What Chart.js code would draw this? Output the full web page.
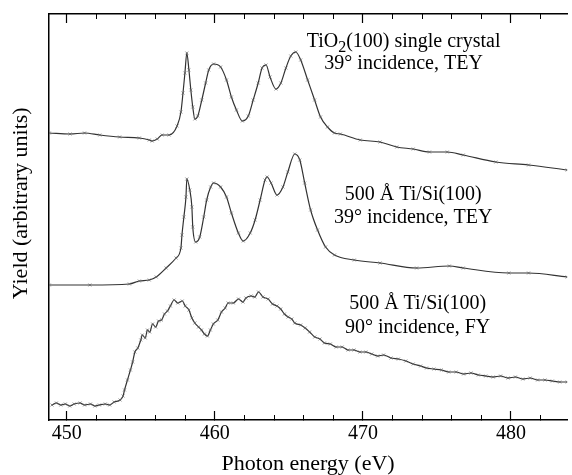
<!DOCTYPE html>
<html>
<head>
<meta charset="utf-8">
<title>Ti L-edge yield spectra</title>
<script src="https://cdn.jsdelivr.net/npm/chart.js@4"></script>
<style>
  body { margin: 0; background: #fff; }
  canvas { display: block; }
</style>
</head>
<body>
<canvas id="chart" width="572" height="475"></canvas>
<script>
// TiO2(100) single crystal, 39 deg, TEY
const tio2Energy = [448.82, 450.22, 451.2, 452.23, 453.57, 454.90, 455.57, 455.77, 456.11, 456.44, 456.91,
    457.45, 457.71, 457.85, 457.98, 458.11, 458.25, 458.38, 458.51, 458.65, 458.85, 459.12, 459.38,
    459.59, 459.92, 460.39, 460.79, 461.12, 461.46, 461.86, 462.26, 462.59, 462.93, 463.19, 463.46,
    463.73, 464.13, 464.46, 464.80, 465.13, 465.47, 465.80, 466.27, 466.74, 467.14, 467.61, 468.08,
    468.48, 469.82, 471.16, 472.29, 473.4, 474.50, 475.7, 476.78, 478.98, 481.19, 483.80];
const tio2Yield = [28.7, 28.6, 28.7, 28.5, 28.3, 28.2, 28.0, 27.9, 28.1, 28.5, 28.5,
    29.4, 30.8, 32.7, 34.7, 36.7, 35.0, 33.0, 31.3, 30.1, 30.4, 32.0, 33.7,
    35.0, 35.6, 35.3, 34.0, 32.3, 31.0, 29.9, 30.4, 32.0, 33.7, 35.2, 35.5,
    34.3, 33.1, 33.7, 35.2, 36.4, 36.8, 36.0, 34.0, 32.0, 30.3, 29.3, 28.7,
    28.6, 28.0, 27.8, 27.3, 27.1, 26.8, 26.8, 26.5, 25.8, 25.5, 25.0];

// 500 A Ti/Si(100), 39 deg, TEY
const tiTeyEnergy = [448.82, 451.56, 454.23, 454.90, 455.57, 456.04, 456.71, 457.38, 457.71, 457.78,
    457.91, 458.05, 458.11, 458.31, 458.45, 458.51, 458.71, 458.98, 459.25, 459.45, 459.72, 459.92,
    460.39, 460.79, 461.12, 461.59, 461.92, 462.39, 462.72, 463.06, 463.39, 463.53, 463.80, 464.20,
    464.60, 464.93, 465.40, 465.74, 466.07, 466.47, 466.94, 467.48, 468.08, 469.42, 471.16, 473.63,
    475.84, 476.78, 479.86, 481.19, 483.80];
const tiTeyYield = [13.5, 13.5, 13.6, 13.9, 14.0, 14.3, 15.2, 16.2, 17.2, 18.5,
    20.3, 22.3, 24.1, 23.0, 21.3, 19.3, 17.8, 18.3, 20.3, 22.0, 23.3, 23.7,
    23.3, 22.3, 20.7, 18.7, 17.9, 18.7, 20.0, 22.0, 24.0, 24.3, 23.7, 22.5,
    23.3, 24.8, 26.6, 26.0, 23.7, 21.0, 19.0, 17.3, 16.5, 16.0, 15.7, 15.2,
    15.4, 15.2, 14.7, 14.7, 14.3];

// 500 A Ti/Si(100), 90 deg, FY
const tiFyEnergy = [449.0, 449.3, 449.6, 449.9, 450.2, 450.5, 450.9, 451.2, 451.6, 451.9, 452.2,
    452.6, 452.9, 453.2, 453.6, 453.8, 453.9, 454.1, 454.3, 454.45, 454.6, 454.8, 455.0, 455.1,
    455.3, 455.45, 455.6, 455.8, 456.0, 456.2, 456.4, 456.6, 456.8, 457.0, 457.25, 457.5, 457.8,
    458.0, 458.25, 458.45, 458.65, 458.9, 459.1, 459.3, 459.5, 459.7, 459.9, 460.2, 460.45, 460.7,
    460.9, 461.25, 461.6, 461.9, 462.1, 462.45, 462.7, 462.95, 463.25, 463.6, 463.9, 464.2, 464.45,
    464.7, 464.95, 465.2, 465.4, 465.8, 466.1, 466.4, 466.75, 467.1, 467.4, 467.8, 468.2, 468.6,
    469.0, 469.4, 469.8, 470.2, 470.6, 471.0, 471.4, 471.9, 472.4, 472.9, 473.4, 473.9, 474.3,
    474.8, 475.3, 475.8, 476.3, 476.8, 477.3, 477.8, 478.3, 478.8, 479.3, 479.8, 480.3, 480.8,
    481.3, 481.8, 482.3, 482.8, 483.3, 483.8];
const tiFyYield = [1.5, 1.7, 1.5, 1.6, 1.4, 1.6, 1.7, 1.5, 1.6, 1.4, 1.5,
    1.6, 1.5, 1.8, 2.0, 2.4, 3.0, 4.0, 5.0, 5.8, 6.8, 7.2, 8.0, 8.5,
    8.2, 9.0, 8.8, 9.6, 9.3, 9.9, 10.0, 10.6, 10.9, 11.4, 12.0, 11.7, 11.9,
    11.4, 11.0, 10.2, 9.7, 9.3, 9.0, 8.6, 8.4, 9.0, 9.6, 10.0, 10.8, 11.2,
    11.7, 11.7, 12.1, 11.8, 12.2, 12.4, 12.3, 12.8, 12.3, 12.1, 11.6, 11.4, 11.1,
    10.6, 10.3, 10.1, 9.7, 9.5, 9.2, 8.8, 8.3, 8.1, 7.7, 7.6, 7.3, 7.3,
    7.0, 7.0, 6.8, 6.8, 6.6, 6.4, 6.5, 6.2, 6.1, 5.9, 5.6, 5.4, 5.2,
    5.1, 5.0, 4.8, 4.8, 4.6, 4.7, 4.5, 4.4, 4.3, 4.4, 4.2, 4.3, 4.1,
    4.2, 4.0, 4.0, 3.9, 3.8, 3.8];

const tickLabels = [450, 460, 470, 480];

const serif = '"Liberation Serif", "Times New Roman", serif';
const xMin = 448.8;
const xMax = 483.8;

function toPoints(xs, ys) {
    return xs.map((x, i) => ({ x: x, y: ys[i] }));
}

function spectrum(xs, ys) {
    return {
        data: toPoints(xs, ys),
        borderColor: '#333',
        borderWidth: 1.2,
        pointStyle: 'crossRot',
        pointRadius: 2,
        pointBorderWidth: 0.8,
        pointBorderColor: '#666',
        pointBackgroundColor: '#666',
        cubicInterpolationMode: 'monotone',
        fill: false
    };
}

// text labels next to each curve, anchored in data units
const spectrumLabels = {
    id: 'spectrumLabels',
    afterDatasetsDraw(chart, args, opts) {
        const { ctx, scales } = chart;
        const x = scales.x;
        const y = scales.y;
        ctx.save();
        ctx.fillStyle = '#000';
        ctx.textBaseline = 'middle';
        ctx.textAlign = 'left';
        opts.blocks.forEach(block => {
            const cx = x.getPixelForValue(block.x);
            block.lines.forEach((line, i) => {
                const cy = y.getPixelForValue(block.y[i]);
                const parts = line.map(p => {
                    ctx.font = (p.sub ? 16 : 20) + 'px ' + serif;
                    return { text: p.text, sub: p.sub, w: ctx.measureText(p.text).width };
                });
                const total = parts.reduce((a, p) => a + p.w, 0);
                let px = cx - total / 2;
                parts.forEach(p => {
                    ctx.font = (p.sub ? 16 : 20) + 'px ' + serif;
                    ctx.fillText(p.text, px, p.sub ? cy + 6 : cy);
                    px += p.w;
                });
            });
        });
        ctx.restore();
    }
};

new Chart(document.getElementById('chart'), {
    type: 'line',
    data: {
        datasets: [
            spectrum(tio2Energy, tio2Yield),
            spectrum(tiTeyEnergy, tiTeyYield),
            spectrum(tiFyEnergy, tiFyYield)
        ]
    },
    options: {
        responsive: false,
        animation: false,
        layout: { padding: 0 },
        plugins: {
            legend: { display: false },
            tooltip: { enabled: false },
            spectrumLabels: {
                blocks: [
                    { x: 472.75, y: [37.8, 35.6], lines: [
                        [{ text: 'TiO' }, { text: '2', sub: true }, { text: '(100) single crystal' }],
                        [{ text: '39° incidence, TEY' }]
                    ] },
                    { x: 473.4, y: [22.5, 20.2], lines: [
                        [{ text: '500 Å Ti/Si(100)' }],
                        [{ text: '39° incidence, TEY' }]
                    ] },
                    { x: 473.7, y: [11.6, 9.2], lines: [
                        [{ text: '500 Å Ti/Si(100)' }],
                        [{ text: '90° incidence, FY' }]
                    ] }
                ]
            }
        },
        scales: {
            x: {
                type: 'linear',
                position: 'bottom',
                min: xMin,
                max: xMax,
                afterFit: s => { s.height = 55; },
                ticks: {
                    stepSize: 2,
                    includeBounds: false,
                    autoSkip: false,
                    maxRotation: 0,
                    padding: 7,
                    color: '#000',
                    font: { family: serif, size: 20 },
                    callback: v => tickLabels.includes(v) ? String(v) : ''
                },
                grid: { drawOnChartArea: false, tickLength: -5, tickColor: '#000', tickWidth: 1 },
                border: { color: '#000', width: 1.5 },
                title: {
                    display: true,
                    text: 'Photon energy (eV)',
                    color: '#000',
                    font: { family: serif, size: 22, lineHeight: 1 },
                    padding: { top: 0, bottom: 0 }
                }
            },
            xMajor: {
                type: 'linear',
                position: 'bottom',
                weight: -1,
                min: xMin,
                max: xMax,
                afterFit: s => { s.height = 0; },
                ticks: { stepSize: 10, includeBounds: false, display: false },
                grid: { drawOnChartArea: false, tickLength: -9, tickColor: '#000', tickWidth: 1.2 },
                border: { display: false }
            },
            xTop: {
                type: 'linear',
                position: 'top',
                min: xMin,
                max: xMax,
                afterFit: s => { s.height = 14; },
                ticks: { stepSize: 2, includeBounds: false, display: false },
                grid: { drawOnChartArea: false, tickLength: -5, tickColor: '#000', tickWidth: 1 },
                border: { color: '#000', width: 1.5 }
            },
            xTopMajor: {
                type: 'linear',
                position: 'top',
                weight: -1,
                min: xMin,
                max: xMax,
                afterFit: s => { s.height = 0; },
                ticks: { stepSize: 10, includeBounds: false, display: false },
                grid: { drawOnChartArea: false, tickLength: -9, tickColor: '#000', tickWidth: 1.2 },
                border: { display: false }
            },
            y: {
                type: 'linear',
                position: 'left',
                min: 0,
                max: 40.6,
                afterFit: s => { s.width = 49; },
                ticks: { display: false },
                grid: { drawOnChartArea: false, drawTicks: false },
                border: { color: '#000', width: 1.5 },
                title: {
                    display: true,
                    text: '     Yield (arbitrary units)',
                    color: '#000',
                    font: { family: serif, size: 22, lineHeight: 1 },
                    padding: { top: 10, bottom: 0 }
                }
            }
        }
    },
    plugins: [spectrumLabels]
});
</script>
</body>
</html>
